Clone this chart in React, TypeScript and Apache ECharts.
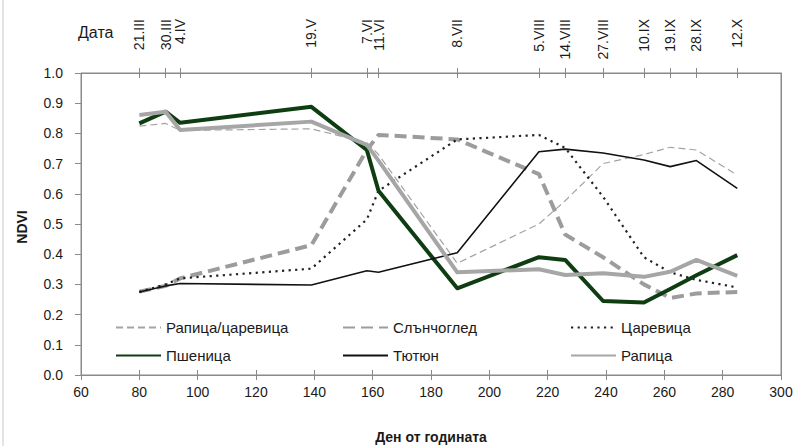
import React, { useEffect, useRef } from "react";
import * as echarts from "echarts";

const days = [80, 89, 94, 139, 158, 162, 189, 217, 226, 239, 253, 262, 271, 285];
const dateLabels = ["21.III", "30.III", "4.IV", "19.V", "7.VI", "11.VI", "8.VII", "5.VIII", "14.VIII", "27.VIII", "10.IX", "19.IX", "28.IX", "12.X"];

const rapeCorn = [0.824, 0.833, 0.81, 0.815, 0.77, 0.73, 0.37, 0.5, 0.577, 0.7, 0.73, 0.754, 0.745, 0.662];
const sunflower = [0.276, 0.295, 0.32, 0.43, 0.745, 0.795, 0.78, 0.665, 0.465, 0.39, 0.3, 0.255, 0.27, 0.275];
const corn = [0.275, 0.3, 0.32, 0.352, 0.515, 0.61, 0.78, 0.795, 0.752, 0.59, 0.39, 0.34, 0.315, 0.29];
const wheat = [0.833, 0.872, 0.835, 0.888, 0.745, 0.61, 0.287, 0.39, 0.381, 0.245, 0.24, 0.285, 0.33, 0.397];
const tobacco = [0.275, 0.295, 0.303, 0.298, 0.345, 0.34, 0.405, 0.739, 0.748, 0.735, 0.712, 0.69, 0.71, 0.618];
const rape = [0.861, 0.872, 0.811, 0.839, 0.762, 0.71, 0.34, 0.35, 0.331, 0.337, 0.325, 0.342, 0.381, 0.328];

const seriesNames = ["Рапица/царевица", "Слънчоглед", "Царевица", "Пшеница", "Тютюн", "Рапица"];

const FONT = "Liberation Sans, Arial, sans-serif";
const AXIS_COLOR = "#8a8a8a";
const TEXT_COLOR = "#1a1a1a";

const pairs = (vals: number[]) => days.map((d, i) => [d, vals[i]]);

export default function App() {
  const ref = useRef<HTMLDivElement>(null);

  useEffect(() => {
    document.body.style.margin = "0";
    if (!ref.current) return;
    const chart = echarts.init(ref.current, null, { renderer: "svg" });

    const grid = { left: 81, right: 15, top: 73, bottom: 71, outerBoundsMode: "none", containLabel: false };

    const styles = [
      { color: "#a3a3a3", width: 1.2, type: [7, 4] },
      { color: "#9c9c9c", width: 4, type: [12, 6] },
      { color: "#222222", width: 2.2, type: [2.2, 4.4] },
      { color: "#0f3d12", width: 4, type: "solid" },
      { color: "#111111", width: 1.6, type: "solid" },
      { color: "#a6a6a6", width: 4, type: "solid" },
    ];
    const values = [rapeCorn, sunflower, corn, wheat, tobacco, rape];

    const legendPos = [
      { left: 115, top: 320 },
      { left: 342, top: 320 },
      { left: 570, top: 320 },
      { left: 115, top: 348 },
      { left: 342, top: 348 },
      { left: 570, top: 348 },
    ];

    chart.setOption({
      animation: false,
      backgroundColor: "#ffffff",
      textStyle: { fontFamily: FONT },
      grid: [
        { ...grid, show: true, borderColor: AXIS_COLOR, borderWidth: 1 },
        { ...grid, show: false },
      ],
      legend: seriesNames.map((n, i) => ({
        data: [n],
        left: legendPos[i].left,
        top: legendPos[i].top,
        padding: 0,
        itemWidth: 45,
        itemHeight: 14,
        itemGap: 0,
        selectedMode: false,
        itemStyle: { opacity: 0 },
        textStyle: { fontSize: 15, color: TEXT_COLOR, fontFamily: FONT },
      })),
      xAxis: [
        {
          type: "value",
          gridIndex: 0,
          position: "bottom",
          min: 60,
          max: 300,
          interval: 20,
          axisLine: { show: true, onZero: false, lineStyle: { color: AXIS_COLOR } },
          axisTick: { show: true, length: 5, lineStyle: { color: AXIS_COLOR } },
          axisLabel: { fontSize: 14, color: TEXT_COLOR, margin: 10, fontFamily: FONT },
          splitLine: { show: false },
        },
        {
          type: "value",
          gridIndex: 0,
          position: "top",
          min: 60,
          max: 300,
          axisLine: { show: true, onZero: false, lineStyle: { color: AXIS_COLOR } },
          axisTick: { show: true, length: 5, customValues: days, lineStyle: { color: AXIS_COLOR } },
          axisLabel: { show: false },
          splitLine: { show: false },
        },
        {
          type: "value",
          gridIndex: 1,
          position: "bottom",
          min: 60,
          max: 300,
          interval: 20,
          axisLine: { show: false, onZero: false },
          axisTick: { show: true, inside: true, length: 5, lineStyle: { color: AXIS_COLOR } },
          axisLabel: { show: false },
          splitLine: { show: false },
        },
        {
          type: "value",
          gridIndex: 1,
          position: "top",
          min: 60,
          max: 300,
          axisLine: { show: false, onZero: false },
          axisTick: { show: true, inside: true, length: 5, customValues: days, lineStyle: { color: AXIS_COLOR } },
          axisLabel: { show: false },
          splitLine: { show: false },
        },
      ],
      yAxis: [
        {
          type: "value",
          gridIndex: 0,
          min: 0,
          max: 1,
          interval: 0.1,
          axisLine: { show: true, onZero: false, lineStyle: { color: AXIS_COLOR } },
          axisTick: { show: true, length: 6, lineStyle: { color: AXIS_COLOR } },
          axisLabel: {
            fontSize: 14,
            color: TEXT_COLOR,
            margin: 18,
            fontFamily: FONT,
            formatter: (v: number) => v.toFixed(1),
          },
          splitLine: { show: false },
        },
        {
          type: "value",
          gridIndex: 1,
          position: "right",
          min: 0,
          max: 1,
          axisLine: { show: true, onZero: false, lineStyle: { color: AXIS_COLOR } },
          axisTick: { show: false },
          axisLabel: { show: false },
          splitLine: { show: false },
        },
      ],
      series: seriesNames.map((n, i) => ({
        name: n,
        type: "line",
        xAxisIndex: 0,
        yAxisIndex: 0,
        data: pairs(values[i]),
        symbol: "none",
        smooth: false,
        lineStyle: { color: styles[i].color, width: styles[i].width, type: styles[i].type, cap: "butt", join: "round" },
        itemStyle: { color: styles[i].color },
        emphasis: { disabled: true },
      })),
    });

    // Date labels on the top axis, placed through the x axis scale
    const dateTexts = days.map((d, i) => {
      const px = chart.convertToPixel({ xAxisIndex: 0 }, d) as number;
      return {
        type: "text",
        x: px,
        y: 19,
        rotation: Math.PI / 2,
        style: {
          text: dateLabels[i],
          fontSize: 14,
          fill: TEXT_COLOR,
          fontFamily: FONT,
          align: "right",
          verticalAlign: "middle",
        },
      };
    });

    chart.setOption({
      graphic: [
        {
          type: "text",
          left: 78,
          top: 24,
          style: { text: "Дата", fontSize: 16, fill: TEXT_COLOR, fontFamily: FONT },
        },
        {
          type: "text",
          x: 22,
          y: 227,
          rotation: Math.PI / 2,
          style: {
            text: "NDVI",
            fontSize: 14,
            fontWeight: "bold",
            fill: TEXT_COLOR,
            fontFamily: FONT,
            align: "center",
            verticalAlign: "middle",
          },
        },
        {
          type: "text",
          x: 431,
          y: 437,
          style: {
            text: "Ден от годината",
            fontSize: 14,
            fontWeight: "bold",
            fill: TEXT_COLOR,
            fontFamily: FONT,
            align: "center",
            verticalAlign: "middle",
          },
        },
        {
          type: "line",
          shape: { x1: 3, y1: 0, x2: 3, y2: 446 },
          style: { stroke: "#c8c8c8", lineWidth: 1 },
        },
        ...dateTexts,
      ],
    });

    return () => chart.dispose();
  }, []);

  return <div ref={ref} style={{ width: 796, height: 446 }} />;
}
